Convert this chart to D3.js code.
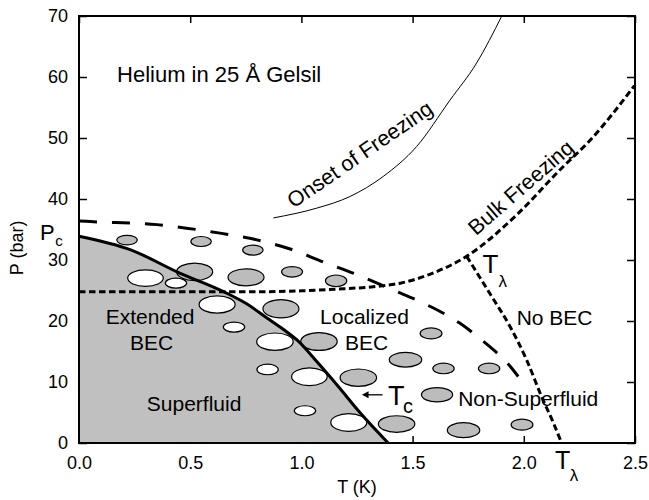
<!DOCTYPE html>
<html>
<head>
<meta charset="utf-8">
<script src="https://cdn.jsdelivr.net/npm/d3@7"></script>
<style>
body { margin: 0; background: #fff; }
text { font-family: "Liberation Sans", Arial, sans-serif; fill: #000; }
</style>
</head>
<body>
<svg id="chart" width="649" height="500"></svg>
<script>
// phase boundaries, points are [T (K), P (bar)]
var tcLine = [[0, 33.9], [0.23, 31.7], [0.45, 27.9], [0.65, 24.8], [0.75, 22.9], [0.845, 20.5],
              [0.92, 18.6], [0.98, 16.9], [1.075, 13.1], [1.165, 9.3], [1.265, 4.9], [1.39, 0]];
var localizedLine = [[0, 36.4], [0.05, 36.3], [0.35, 35.8], [0.6, 34.6], [0.8, 33.3], [0.95, 31.8],
                     [1.1, 29.65], [1.25, 27.6], [1.41, 25.1], [1.55, 22.9], [1.71, 19.7],
                     [1.81, 16.9], [1.945, 12.3], [1.975, 10.9]];
var bulkLine = [[0, 24.8], [0.8, 24.8], [1.0, 24.95], [1.15, 25.2], [1.37, 25.8], [1.445, 26.2],
                [1.58, 27.7], [1.743, 30.6], [1.968, 37.4], [2.163, 44.8], [2.3, 49.7], [2.5, 58.7]];
var lambdaLine = [[1.743, 30.6], [1.856, 24.0], [1.938, 19.1], [2.013, 13.6], [2.08, 7.6],
                  [2.133, 3.3], [2.17, 0]];
var onsetLine = [[0.874, 36.9], [1.069, 38.5], [1.218, 40.4], [1.368, 43.7], [1.518, 48.6],
                 [1.668, 56.2], [1.788, 62.3], [1.901, 70]];

// bubbles: [T, P, half width (K), half height (bar)]
var grayBubbles = [
  [0.216, 33.26, 0.046, 0.78], [0.549, 33.03, 0.046, 0.82], [0.782, 31.62, 0.046, 0.82],
  [0.52, 28.06, 0.081, 1.44], [0.751, 27.16, 0.081, 1.4], [0.958, 28.06, 0.047, 0.87],
  [1.156, 26.59, 0.048, 0.95], [0.908, 22.0, 0.081, 1.5], [1.079, 16.64, 0.082, 1.47],
  [1.256, 10.7, 0.082, 1.43], [1.468, 13.65, 0.073, 1.2], [1.428, 3.11, 0.082, 1.36],
  [1.583, 17.96, 0.049, 0.9], [1.61, 7.91, 0.07, 1.18], [1.639, 12.22, 0.048, 0.87],
  [1.844, 12.22, 0.048, 0.87], [1.729, 2.1, 0.073, 1.23], [1.992, 3.0, 0.049, 0.9]
];
var whiteBubbles = [
  [0.299, 27.03, 0.08, 1.36], [0.436, 26.21, 0.048, 0.82], [0.621, 22.71, 0.081, 1.42],
  [0.697, 19.0, 0.048, 0.82], [0.881, 16.6, 0.082, 1.43], [0.848, 12.06, 0.048, 0.87],
  [1.036, 10.86, 0.08, 1.44], [1.016, 5.29, 0.048, 0.82], [1.213, 3.36, 0.081, 1.44]
];

var xTicks = [0, 0.5, 1, 1.5, 2, 2.5];
var yTicks = [0, 10, 20, 30, 40, 50, 60, 70];

var width = 649, height = 500;
var padding = {top: 16, right: 14, bottom: 57, left: 79};
var svg = d3.select("#chart");

var x = d3.scaleLinear().domain([0, 2.5]).range([padding.left, width - padding.right]);
var y = d3.scaleLinear().domain([0, 70]).range([height - padding.bottom, padding.top]);

function styleAxis(g) {
  g.attr("font-size", 18).attr("font-family", "Liberation Sans, Arial, sans-serif");
  g.select(".domain").remove();
  g.selectAll(".tick line").attr("stroke", "#000").attr("stroke-width", 1.5);
}

// axes (ticks point inward)
svg.append("g")
    .attr("transform", "translate(0," + y(0) + ")")
    .call(d3.axisBottom(x).tickValues(xTicks).tickFormat(d3.format(".1f"))
            .tickSizeInner(-7).tickSizeOuter(0).tickPadding(13))
    .call(styleAxis);
svg.append("g")
    .attr("transform", "translate(" + x(0) + ",0)")
    .call(d3.axisLeft(y).tickValues(yTicks).tickSizeInner(-8).tickSizeOuter(0).tickPadding(11))
    .call(styleAxis);
svg.append("g")
    .attr("transform", "translate(0," + y(70) + ")")
    .call(d3.axisTop(x).tickValues(xTicks).tickFormat("").tickSizeInner(-7).tickSizeOuter(0))
    .call(styleAxis);
svg.append("g")
    .attr("transform", "translate(" + x(2.5) + ",0)")
    .call(d3.axisRight(y).tickValues(yTicks).tickFormat("").tickSizeInner(-8).tickSizeOuter(0))
    .call(styleAxis);

// superfluid region
var area = d3.area()
    .x(d => x(d[0]))
    .y0(y(0))
    .y1(d => y(d[1]))
    .curve(d3.curveMonotoneX);
svg.append("path")
    .datum(tcLine)
    .attr("d", area)
    .attr("fill", "#c0c0c0");

function drawBubbles(data, fill) {
  svg.selectAll(null)
    .data(data)
    .enter()
    .append("ellipse")
      .attr("cx", d => x(d[0]))
      .attr("cy", d => y(d[1]))
      .attr("rx", d => x(d[2]) - x(0))
      .attr("ry", d => y(0) - y(d[3]))
      .attr("fill", fill)
      .attr("stroke", "#000")
      .attr("stroke-width", 1.2);
}
drawBubbles(grayBubbles, "#bcbcbc");
drawBubbles(whiteBubbles, "#fff");

var line = d3.line()
    .x(d => x(d[0]))
    .y(d => y(d[1]))
    .curve(d3.curveMonotoneX);

function drawLine(data, w, dash) {
  svg.append("path")
    .datum(data)
    .attr("d", line)
    .attr("fill", "none")
    .attr("stroke", "#000")
    .attr("stroke-width", w)
    .attr("stroke-dasharray", dash);
}
drawLine(onsetLine, 1, null);
drawLine(localizedLine, 3, "18,15");
drawLine(bulkLine, 3, "6.5,3.5");
drawLine(lambdaLine, 3, "6.5,3.5");
drawLine(tcLine, 3, null);

// frame
svg.append("rect")
    .attr("x", x(0))
    .attr("y", y(70))
    .attr("width", x(2.5) - x(0))
    .attr("height", y(0) - y(70))
    .attr("fill", "none")
    .attr("stroke", "#000")
    .attr("stroke-width", 2);

function label(t, p, txt, size, angle) {
  var el = svg.append("text")
    .attr("x", x(t))
    .attr("y", y(p))
    .attr("font-size", size)
    .text(txt);
  if (angle) el.attr("transform", "rotate(" + angle + "," + x(t) + "," + y(p) + ")");
  return el;
}

label(0.171, 59.2, "Helium in 25 Å Gelsil", 22);
label(0.12, 19.5, "Extended", 21);
label(0.229, 15.2, "BEC", 21);
label(0.305, 5.3, "Superfluid", 21);
label(1.084, 19.5, "Localized", 21);
label(1.196, 15.2, "BEC", 21);
label(1.968, 19.3, "No BEC", 21);
label(1.705, 6.0, "Non-Superfluid", 21);
label(0.965, 38.4, "Onset of Freezing", 21.5, -34.5);
label(1.785, 33.9, "Bulk Freezing", 21.5, -41);

// Pc, Tc, T lambda markers
label(-0.175, 33.3, "P", 22);
label(-0.107, 32.3, "c", 15);
label(1.389, 6.2, "T", 27);
label(1.457, 4.9, "c", 20);
label(1.814, 27.8, "T", 26);
label(1.886, 25.6, "λ", 17);
label(2.14, -4.3, "T", 25);
label(2.207, -6.3, "λ", 17);

// arrow to the Tc line
var ay = y(7.9);
svg.append("line")
    .attr("x1", x(1.365)).attr("x2", x(1.29))
    .attr("y1", ay).attr("y2", ay)
    .attr("stroke", "#000").attr("stroke-width", 1.3);
svg.append("path")
    .attr("d", "M" + x(1.272) + "," + ay + "L" + x(1.302) + "," + (ay - 3.5) +
               "L" + x(1.302) + "," + (ay + 3.5) + "Z")
    .attr("fill", "#000");

// axis titles
svg.append("text")
    .attr("x", (x(0) + x(2.5)) / 2)
    .attr("y", height - 7)
    .attr("text-anchor", "middle")
    .attr("font-size", 18)
    .text("T (K)");
svg.append("text")
    .attr("transform", "translate(23," + y(32) + ") rotate(-90)")
    .attr("text-anchor", "middle")
    .attr("font-size", 18)
    .text("P (bar)");
</script>
</body>
</html>
